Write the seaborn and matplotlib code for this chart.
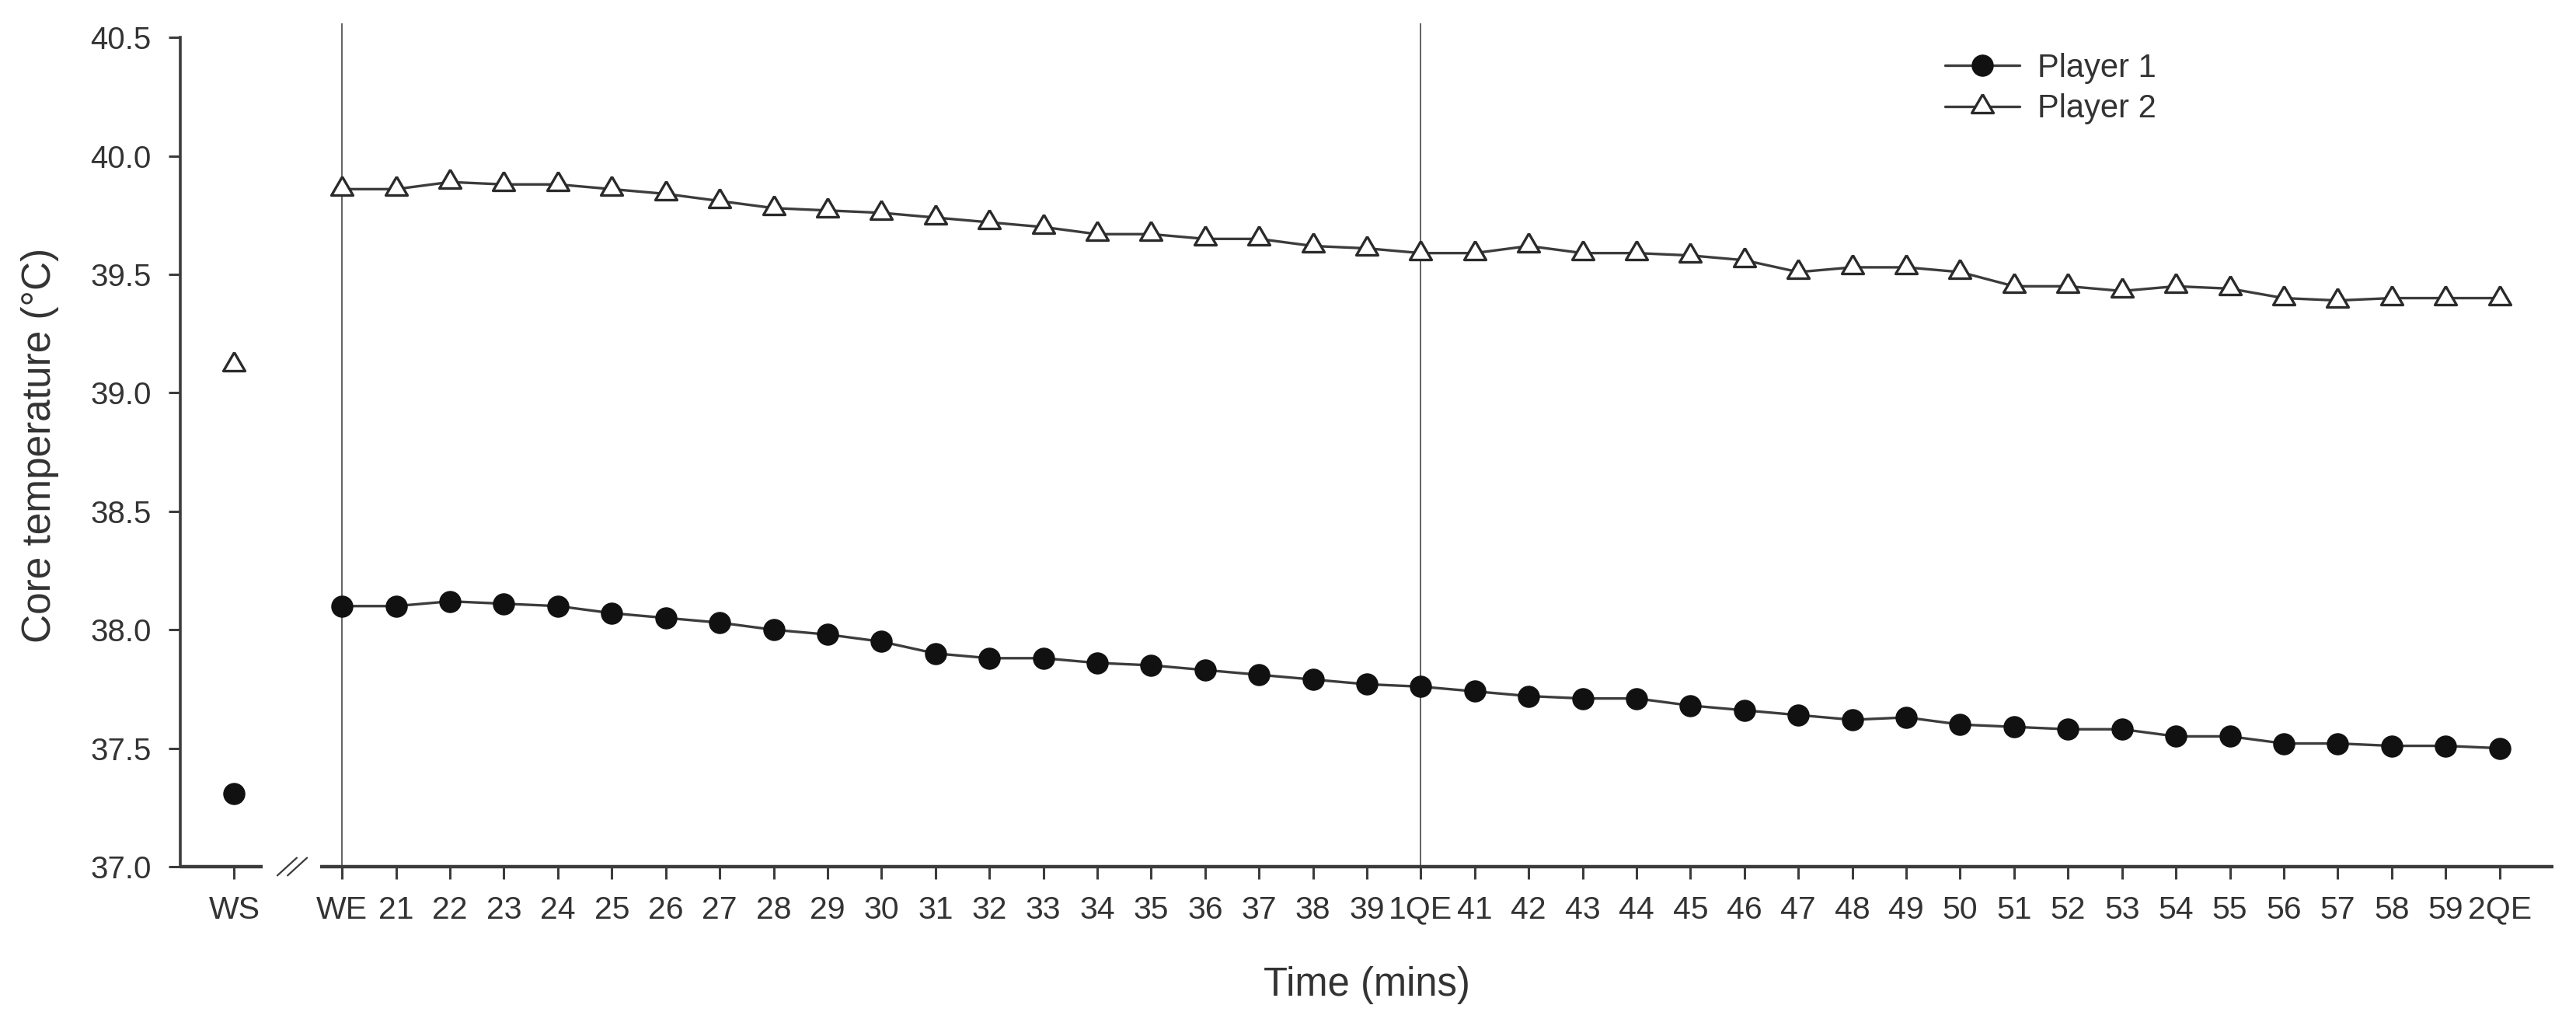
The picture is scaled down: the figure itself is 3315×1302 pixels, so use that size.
import numpy as np
import pandas as pd
import matplotlib
matplotlib.use("Agg")
import matplotlib.pyplot as plt
import matplotlib.transforms as mtransforms
import seaborn as sns

# ---------------- data ----------------
time_labels = ["WS", "WE", "21", "22", "23", "24", "25", "26", "27", "28", "29",
               "30", "31", "32", "33", "34", "35", "36", "37", "38", "39",
               "1QE", "41", "42", "43", "44", "45", "46", "47", "48", "49",
               "50", "51", "52", "53", "54", "55", "56", "57", "58", "59", "2QE"]

player1_ws = 37.31
player2_ws = 39.12

player1 = [38.10, 38.10, 38.12, 38.11, 38.10, 38.07, 38.05, 38.03, 38.00, 37.98,
           37.95, 37.90, 37.88, 37.88, 37.86, 37.85, 37.83, 37.81, 37.79, 37.77,
           37.76, 37.74, 37.72, 37.71, 37.71, 37.68, 37.66, 37.64, 37.62, 37.63,
           37.60, 37.59, 37.58, 37.58, 37.55, 37.55, 37.52, 37.52, 37.51, 37.51,
           37.50]

player2 = [39.86, 39.86, 39.89, 39.88, 39.88, 39.86, 39.84, 39.81, 39.78, 39.77,
           39.76, 39.74, 39.72, 39.70, 39.67, 39.67, 39.65, 39.65, 39.62, 39.61,
           39.59, 39.59, 39.62, 39.59, 39.59, 39.58, 39.56, 39.51, 39.53, 39.53,
           39.51, 39.45, 39.45, 39.43, 39.45, 39.44, 39.40, 39.39, 39.40, 39.40,
           39.40]

series_names = ["Player 1", "Player 2"]
y_ticks = [37.0, 37.5, 38.0, 38.5, 39.0, 39.5, 40.0, 40.5]

# ---------------- style ----------------
sns.set_theme(style="ticks")
plt.rcParams["font.family"] = ["Liberation Sans", "DejaVu Sans"]
TXT = "#333333"
LINE = "#3c3c3c"

# positions: WS sits two slots left of WE (axis break in between)
x_main = np.arange(len(player1))
x_ws = -2
x_ticks = [x_ws] + list(x_main)

df1 = pd.DataFrame({"x": x_main, "temp": player1})
df2 = pd.DataFrame({"x": x_main, "temp": player2})
ws1 = pd.DataFrame({"x": [x_ws], "temp": [player1_ws]})
ws2 = pd.DataFrame({"x": [x_ws], "temp": [player2_ws]})

fig = plt.figure(figsize=(33.15, 13.02), dpi=100, facecolor="white")
ax = fig.add_axes([232 / 3315, 187 / 1302, (3286 - 232) / 3315, 1085 / 1302])
ax.set_facecolor("white")

# reference vertical lines at WE and 1QE
ax.axvline(x_main[0], color="#555555", lw=1.3, zorder=1)
ax.axvline(x_main[20], color="#555555", lw=1.3, zorder=1)

# triangle centred on its centroid (as in the original)
tri = [(0, 1.0), (-0.875, -0.5), (0.875, -0.5), (0, 1.0)]

circle_kw = dict(marker="o", markersize=19.5, markerfacecolor="#111111",
                 markeredgecolor="#111111", markeredgewidth=1.0)
tri_kw = dict(marker=tri, markersize=23, markerfacecolor="white",
              markeredgecolor="#2a2a2a", markeredgewidth=2.4)

sns.lineplot(data=df1, x="x", y="temp", ax=ax, color=LINE, lw=2.4,
             errorbar=None, sort=False, label=series_names[0], zorder=3, **circle_kw)
sns.lineplot(data=df2, x="x", y="temp", ax=ax, color=LINE, lw=2.4,
             errorbar=None, sort=False, label=series_names[1], zorder=3, **tri_kw)
sns.lineplot(data=ws1, x="x", y="temp", ax=ax, color=LINE, lw=0,
             errorbar=None, legend=False, zorder=3, **circle_kw)
sns.lineplot(data=ws2, x="x", y="temp", ax=ax, color=LINE, lw=0,
             errorbar=None, legend=False, zorder=3, **tri_kw)

# axes limits / ticks
ax.set_xlim(-3, 41)
ax.set_ylim(37.0, 40.56)
ax.set_xticks(x_ticks)
ax.set_xticklabels(time_labels)
ax.set_yticks(y_ticks)
ax.set_yticklabels([f"{v:.1f}" for v in y_ticks])

for s in ["top", "right", "bottom"]:
    ax.spines[s].set_visible(False)
ax.spines["left"].set_bounds(37.0, 40.5)
ax.spines["left"].set_linewidth(2.6)
ax.spines["left"].set_color(LINE)

ax.tick_params(axis="x", direction="out", length=11.5, width=2.2, color=LINE,
               pad=15, labelsize=29.5, labelcolor=TXT)
ax.tick_params(axis="y", direction="out", length=11, width=2.2, color=LINE,
               pad=16, labelsize=29, labelcolor=TXT)

# broken x axis
trans = mtransforms.blended_transform_factory(ax.transData, ax.transAxes)
ax.plot([-3, -1.48], [0, 0], transform=trans, color=LINE, lw=3.2,
        clip_on=False, solid_capstyle="butt", zorder=4)
ax.plot([-0.40, 41], [0, 0], transform=trans, color=LINE, lw=3.2,
        clip_on=False, solid_capstyle="butt", zorder=4)
for x0 in (-1.20, -1.01):
    ax.plot([x0, x0 + 0.36], [-0.0105, 0.0105], transform=trans, color=LINE,
            lw=1.6, clip_on=False, zorder=4)

ax.set_xlabel("Time (mins)", fontsize=36.5, color=TXT, labelpad=38)
ax.set_ylabel("Core temperature (°C)", fontsize=37, color=TXT, labelpad=29)

handles, labels = ax.get_legend_handles_labels()
ax.legend(handles, labels, loc="upper left",
          bbox_to_anchor=(2503 / 3315, 1 - 68 / 1302), bbox_transform=fig.transFigure,
          frameon=False, fontsize=30, handlelength=2.3, handletextpad=0.55,
          labelspacing=0.3, borderpad=0, borderaxespad=0, labelcolor=TXT)

fig.savefig("out.png", dpi=100, facecolor="white")
